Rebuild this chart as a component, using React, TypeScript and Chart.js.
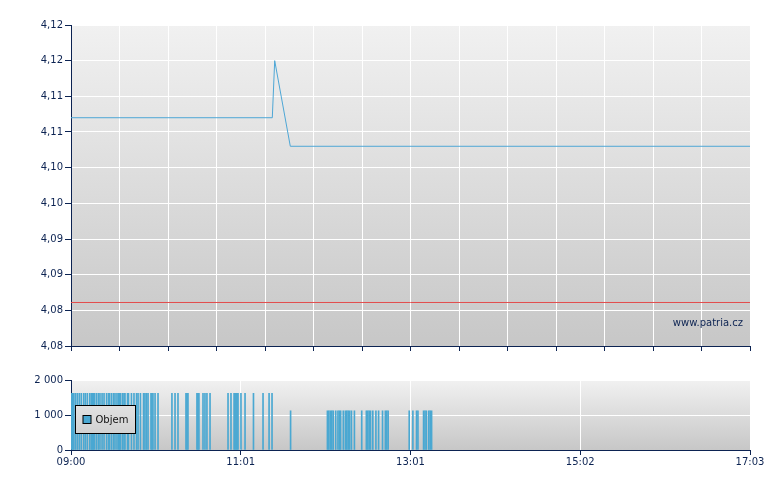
import React, { useEffect, useRef } from 'react';
import { Chart, registerables } from 'chart.js';
Chart.register(...registerables);

// minutes after 09:00
const timeMin = 0;
const timeMax = 483;

const priceTimes = [0, 143.2, 144.9, 156, 483];
const priceValues = [4.112, 4.112, 4.12, 4.108, 4.108];
const refTimes = [0, 483];
const refValues = [4.0861, 4.0861];

const mainYTicks = [4.08, 4.085, 4.09, 4.095, 4.1, 4.105, 4.11, 4.115, 4.12, 4.125];
const mainXTicks = [0, 34.5, 69, 103.5, 138, 172.5, 207, 241.5, 276, 310.5, 345, 379.5, 414, 448.5, 483];

const volYTicks = [0, 1000, 2000];
const volXTicks = [0, 120.75, 241.5, 362.25, 483];
const volXLabels = ['09:00', '11:01', '13:01', '15:02', '17:03'];

const volTimes = [
  0.4, 1.2, 2.0, 3.2, 4.5, 5.9, 7.3, 9.0, 10.2, 11.6, 13.3, 14.4, 15.1, 15.8, 16.6, 18.0, 19.4, 20.6,
  22.1, 23.5, 25.3, 26.7, 27.4, 28.8, 30.2, 31.3, 32.7, 33.8, 34.5, 35.2, 36.6, 37.7, 38.4, 40.2, 40.9,
  43.0, 44.8, 46.6, 47.7, 49.4, 51.6, 52.6, 53.7, 54.8, 56.9, 57.6, 58.3, 59.8, 61.9, 71.8, 74.0, 76.1,
  81.8, 82.5, 83.2, 89.6, 90.3, 91.0, 93.9, 95.3, 96.7, 98.9, 111.7, 113.8, 116.0, 116.7, 117.4, 118.1,
  118.8, 120.9, 123.8, 129.8, 136.6, 140.9, 143.0,
  156.2, 182.4, 183.4, 184.5, 185.5, 186.5, 188.3, 189.9, 190.9, 191.8, 193.7, 195.2, 196.2, 197.2,
  198.2, 199.5, 201.6, 206.8, 210.1, 211.1, 212.1, 213.1, 214.7, 216.9, 218.8, 221.6, 223.6, 224.6,
  225.6, 240.6, 243.2, 245.8, 246.8, 250.8, 251.8, 252.8, 254.5, 255.5, 256.5,
];
const volValues = [
  1620, 1620, 1620, 1620, 1620, 1620, 1620, 1620, 1620, 1620, 1620, 1620, 1620, 1620, 1620, 1620, 1620, 1620,
  1620, 1620, 1620, 1620, 1620, 1620, 1620, 1620, 1620, 1620, 1620, 1620, 1620, 1620, 1620, 1620, 1620,
  1620, 1620, 1620, 1620, 1620, 1620, 1620, 1620, 1620, 1620, 1620, 1620, 1620, 1620, 1620, 1620, 1620,
  1620, 1620, 1620, 1620, 1620, 1620, 1620, 1620, 1620, 1620, 1620, 1620, 1620, 1620, 1620, 1620,
  1620, 1620, 1620, 1620, 1620, 1620, 1620,
  1120, 1120, 1120, 1120, 1120, 1120, 1120, 1120, 1120, 1120, 1120, 1120, 1120, 1120,
  1120, 1120, 1120, 1120, 1120, 1120, 1120, 1120, 1120, 1120, 1120, 1120, 1120, 1120,
  1120, 1120, 1120, 1120, 1120, 1120, 1120, 1120, 1120, 1120, 1120,
];

const NAVY = '#0c2352';
const FONT = 'DejaVu Sans';

function plotGradient(chart: any) {
  const { ctx, chartArea } = chart;
  const g = ctx.createLinearGradient(0, chartArea.top, 0, chartArea.bottom);
  g.addColorStop(0, '#f1f1f1');
  g.addColorStop(1, '#c7c7c7');
  return g;
}

const bgPlugin = {
  id: 'plotBg',
  beforeDraw(chart: any) {
    const { ctx, chartArea } = chart;
    ctx.save();
    ctx.fillStyle = plotGradient(chart);
    ctx.fillRect(chartArea.left, chartArea.top, chartArea.right - chartArea.left, chartArea.bottom - chartArea.top);
    ctx.restore();
  },
};

const watermarkPlugin = {
  id: 'watermark',
  afterDraw(chart: any) {
    const { ctx, chartArea } = chart;
    ctx.save();
    ctx.font = `10px "${FONT}"`;
    ctx.fillStyle = NAVY;
    ctx.textAlign = 'right';
    ctx.textBaseline = 'alphabetic';
    ctx.fillText('www.patria.cz', chartArea.right - 7, chartArea.bottom - 20);
    ctx.restore();
  },
};

const legendPlugin = {
  id: 'boxLegend',
  afterDatasetsDraw(chart: any) {
    const { ctx, chartArea } = chart;
    const label = chart.data.datasets[0].label;
    const x = chartArea.left + 4.5;
    const y = chartArea.top + 25.5;
    ctx.save();
    ctx.fillStyle = plotGradient(chart);
    ctx.fillRect(x, y, 60, 28);
    ctx.strokeStyle = '#000';
    ctx.lineWidth = 1;
    ctx.strokeRect(x, y, 60, 28);
    ctx.fillStyle = '#4aa8d2';
    ctx.fillRect(x + 7.5, y + 10, 8, 8);
    ctx.strokeRect(x + 7.5, y + 10, 8, 8);
    ctx.fillStyle = '#111';
    ctx.font = `10px "${FONT}"`;
    ctx.textBaseline = 'middle';
    ctx.textAlign = 'left';
    ctx.fillText(label, x + 20, y + 15);
    ctx.restore();
  },
};

function truncLabel(v: number) {
  const t = Math.floor(v * 100 + 1e-6) / 100;
  return t.toFixed(2).replace('.', ',');
}

function thousands(v: number) {
  return String(Math.round(v)).replace(/\B(?=(\d{3})+(?!\d))/g, ' ');
}

export default function App() {
  const mainRef = useRef<HTMLCanvasElement>(null);
  const volRef = useRef<HTMLCanvasElement>(null);

  useEffect(() => {
    Chart.defaults.font.family = FONT;
    Chart.defaults.font.size = 10;
    Chart.defaults.color = NAVY;

    const main = new Chart(mainRef.current!, {
      type: 'line',
      data: {
        datasets: [
          {
            label: 'Cena',
            data: priceTimes.map((t, i) => ({ x: t, y: priceValues[i] })),
            borderColor: '#4ea7d6',
            borderWidth: 1,
            pointRadius: 0,
            tension: 0,
          },
          {
            label: 'Předchozí závěr',
            data: refTimes.map((t, i) => ({ x: t, y: refValues[i] })),
            borderColor: '#e34c4c',
            borderWidth: 1,
            pointRadius: 0,
            tension: 0,
          },
        ],
      },
      options: {
        responsive: false,
        animation: false,
        devicePixelRatio: 1,
        layout: { padding: { top: 25, left: 0, right: 30, bottom: 132 } },
        plugins: { legend: { display: false }, tooltip: { enabled: false } },
        scales: {
          x: {
            type: 'linear',
            min: timeMin,
            max: timeMax,
            offset: false,
            afterBuildTicks: (s: any) => { s.ticks = mainXTicks.map((v) => ({ value: v })); },
            afterFit: (s: any) => { s.height = 12; },
            ticks: { autoSkip: false, callback: () => '', maxRotation: 0 },
            grid: { color: '#ffffff', lineWidth: 1, tickColor: NAVY, tickLength: 5, drawTicks: true },
            border: { color: NAVY, width: 1 },
          },
          y: {
            type: 'linear',
            min: 4.08,
            max: 4.125,
            afterBuildTicks: (s: any) => { s.ticks = mainYTicks.map((v) => ({ value: v })); },
            afterFit: (s: any) => { s.width = 71; },
            ticks: { autoSkip: false, padding: 2, callback: (v: any) => truncLabel(Number(v)) },
            grid: { color: '#ffffff', lineWidth: 1, tickColor: NAVY, tickLength: 6 },
            border: { color: NAVY, width: 1 },
          },
        },
      },
      plugins: [bgPlugin, watermarkPlugin],
    } as any);

    const vol = new Chart(volRef.current!, {
      type: 'bar',
      data: {
        datasets: [
          {
            label: 'Objem',
            data: volTimes.map((t, i) => ({ x: t, y: volValues[i] })),
            backgroundColor: '#4aa8d2',
            borderWidth: 0,
            barThickness: 1,
          },
        ],
      },
      options: {
        responsive: false,
        animation: false,
        devicePixelRatio: 1,
        layout: { padding: { top: 380, left: 0, right: 30, bottom: 20 } },
        plugins: { legend: { display: false }, tooltip: { enabled: false } },
        scales: {
          x: {
            type: 'linear',
            min: timeMin,
            max: timeMax,
            offset: false,
            afterBuildTicks: (s: any) => { s.ticks = volXTicks.map((v) => ({ value: v })); },
            afterFit: (s: any) => { s.height = 20; },
            ticks: {
              autoSkip: false,
              maxRotation: 0,
              padding: 1,
              callback: (v: any, i: number) => volXLabels[i],
            },
            grid: { color: '#ffffff', lineWidth: 1, tickColor: NAVY, tickLength: 5, offset: false },
            border: { color: NAVY, width: 1 },
          },
          y: {
            type: 'linear',
            min: 0,
            max: 2000,
            afterBuildTicks: (s: any) => { s.ticks = volYTicks.map((v) => ({ value: v })); },
            afterFit: (s: any) => { s.width = 71; },
            ticks: { autoSkip: false, padding: 2, callback: (v: any) => thousands(Number(v)) },
            grid: { color: '#ffffff', lineWidth: 1, tickColor: NAVY, tickLength: 6 },
            border: { color: NAVY, width: 1 },
          },
        },
      },
      plugins: [bgPlugin, legendPlugin],
    } as any);

    return () => {
      main.destroy();
      vol.destroy();
    };
  }, []);

  return (
    <div style={{ position: 'absolute', left: 0, top: 0, width: 780, height: 490, background: '#ffffff' }}>
      <canvas ref={mainRef} width={780} height={490} style={{ position: 'absolute', left: 0, top: 0 }} />
      <canvas ref={volRef} width={780} height={490} style={{ position: 'absolute', left: 0, top: 0 }} />
    </div>
  );
}
